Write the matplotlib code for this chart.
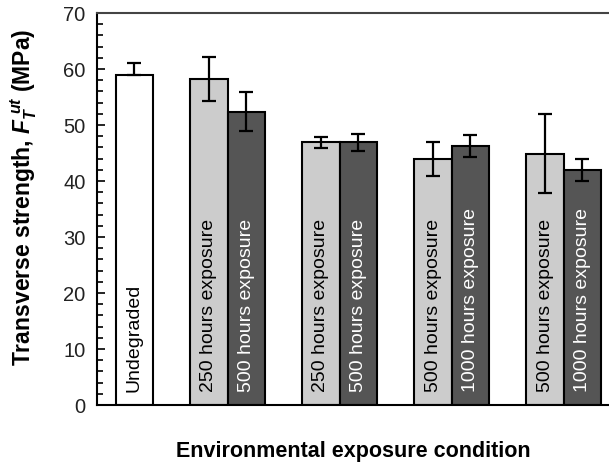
import matplotlib
matplotlib.use('Agg')
import matplotlib.pyplot as plt

plt.rcParams['font.family'] = 'Liberation Sans'
plt.rcParams['mathtext.fontset'] = 'custom'
plt.rcParams['mathtext.it'] = 'Liberation Sans:italic:bold'
plt.rcParams['mathtext.rm'] = 'Liberation Sans:bold'
plt.rcParams['mathtext.bf'] = 'Liberation Sans:bold'

# bar positions (in bar widths), values and error bars
positions = [0, 2, 3, 5, 6, 8, 9, 11, 12]
values = [59.0, 58.2, 52.4, 46.9, 46.9, 43.9, 46.2, 44.9, 42.0]
err_low = [0.0, 4.0, 3.5, 1.0, 1.5, 3.0, 2.0, 7.0, 2.0]
err_high = [2.0, 4.0, 3.5, 1.0, 1.5, 3.0, 2.0, 7.0, 2.0]
labels = ['Undegraded',
          '250 hours exposure', '500 hours exposure',
          '250 hours exposure', '500 hours exposure',
          '500 hours exposure', '1000 hours exposure',
          '500 hours exposure', '1000 hours exposure']
fills = ['white', '#cccccc', '#555555', '#cccccc', '#555555',
         '#cccccc', '#555555', '#cccccc', '#555555']
text_colors = ['black', 'black', 'white', 'black', 'white',
               'black', 'white', 'black', 'white']

fig = plt.figure(figsize=(6.09, 4.65), dpi=100)
ax = fig.add_axes([0.159, 0.129, 0.841, 0.843])

ax.bar(positions, values, width=1.0, color=fills, edgecolor='black', linewidth=1.5, zorder=2)
ax.errorbar(positions, values, yerr=[err_low, err_high], fmt='none', ecolor='black',
            elinewidth=1.6, capsize=5, capthick=1.6, zorder=3)

for x, lab, tc in zip(positions, labels, text_colors):
    ax.text(x, 2.3, lab, rotation=90, ha='center', va='bottom', fontsize=14,
            color=tc, zorder=4)

ax.set_xlim(-1.0, 12.71)
ax.set_ylim(0, 70)
ax.set_yticks(range(0, 71, 10))
ax.set_yticks(range(0, 71, 2), minor=True)
ax.set_xticks([])
ax.tick_params(axis='y', which='both', direction='in', width=1.2, labelsize=14.5,
               labelcolor='#222222', pad=8)
ax.tick_params(axis='y', which='major', length=6)
ax.tick_params(axis='y', which='minor', length=4)
ax.spines['right'].set_visible(False)
for s in ['left', 'top', 'bottom']:
    ax.spines[s].set_linewidth(1.5)
ax.spines['top'].set_color('#444444')

ax.set_ylabel(r'Transverse strength, $F_{T}^{\;ut}$ (MPa)', fontsize=16.5,
              fontweight='bold')
ax.yaxis.set_label_coords(-0.113, 0.53)
ax.set_xlabel('Environmental exposure condition', fontsize=15.5, fontweight='bold',
              labelpad=26)

fig.savefig('out.png', dpi=100)
